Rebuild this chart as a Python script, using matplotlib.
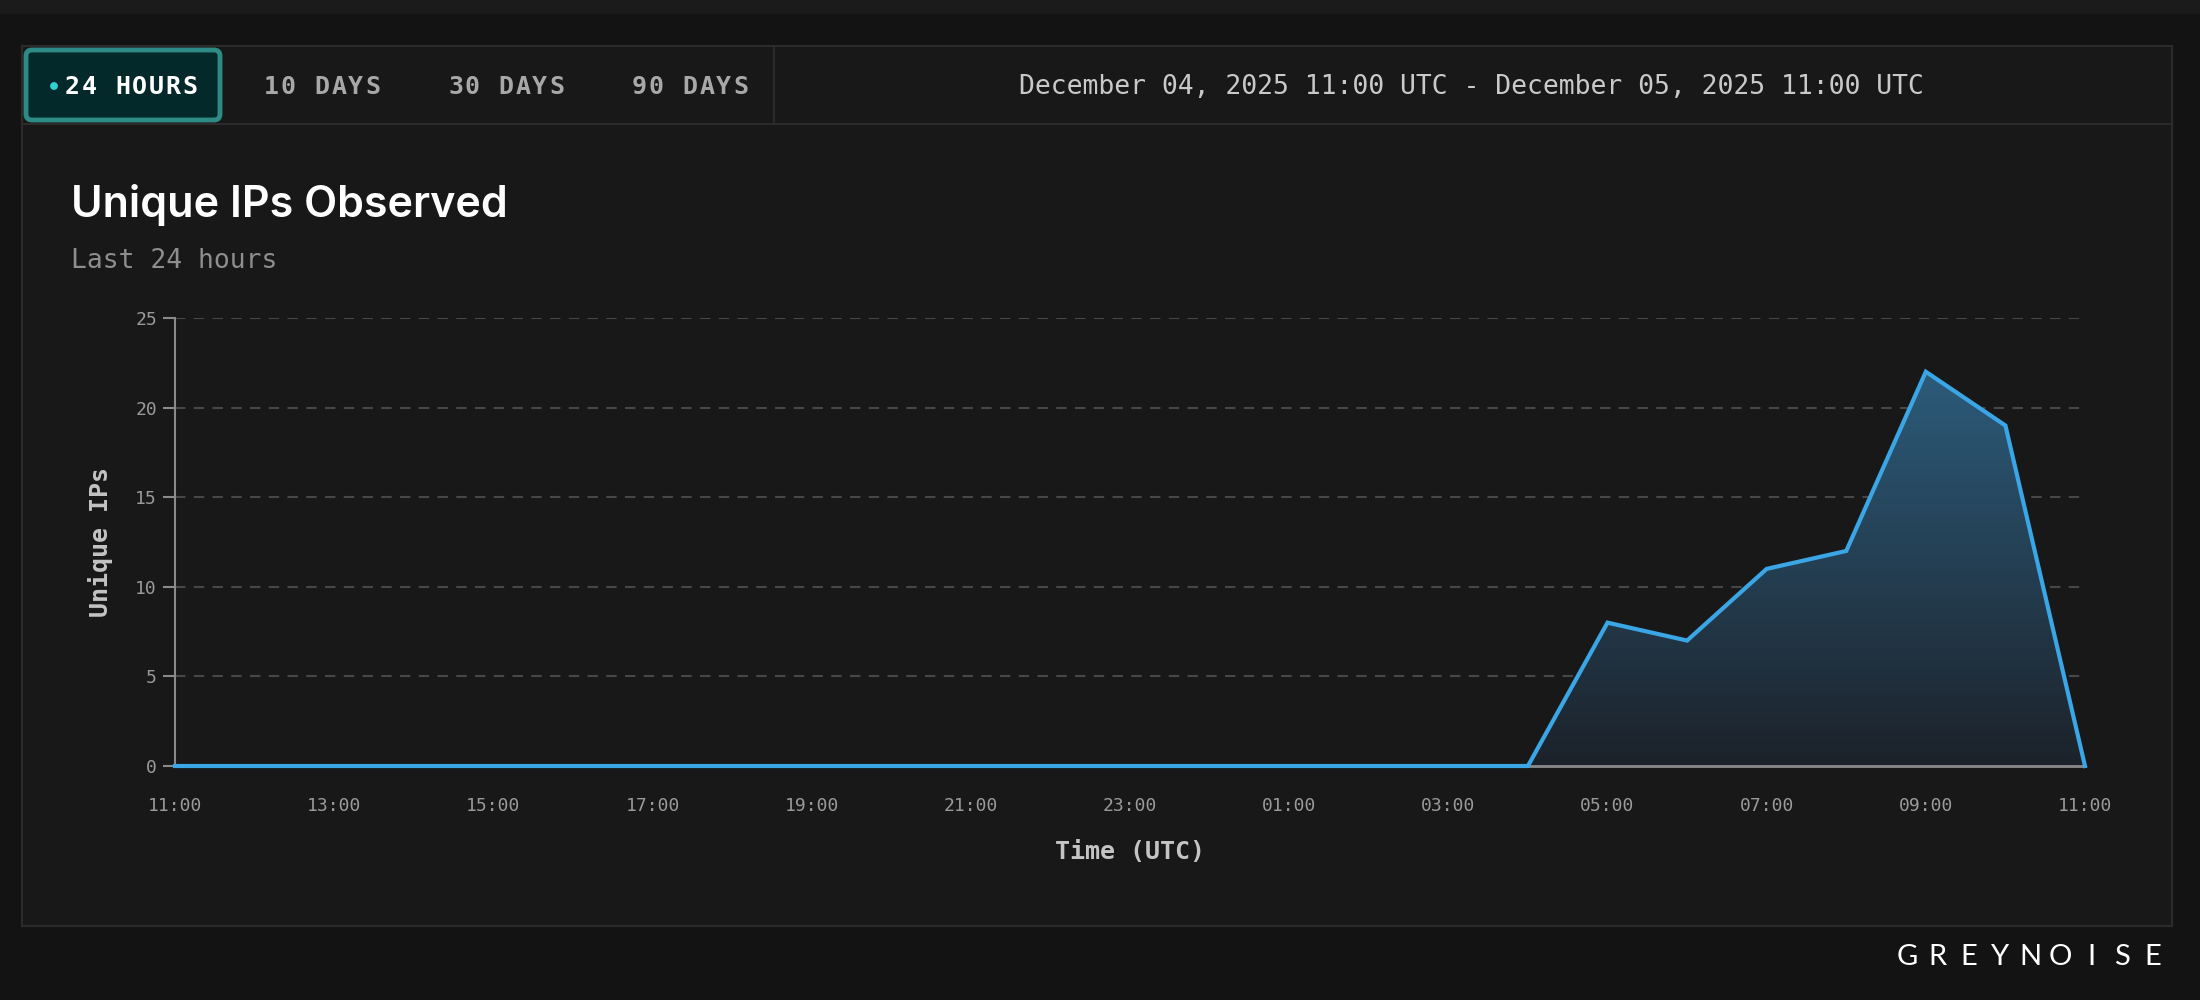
import numpy as np
import matplotlib
matplotlib.use("Agg")
import matplotlib.pyplot as plt
from matplotlib.patches import Rectangle, FancyBboxPatch, Circle
from matplotlib.colors import LinearSegmentedColormap

# data (hourly, 11:00 -> 11:00 next day)
hours = ["11:00", "12:00", "13:00", "14:00", "15:00", "16:00", "17:00", "18:00",
         "19:00", "20:00", "21:00", "22:00", "23:00", "00:00", "01:00", "02:00",
         "03:00", "04:00", "05:00", "06:00", "07:00", "08:00", "09:00", "10:00", "11:00"]
unique_ips = [0, 0, 0, 0, 0, 0, 0, 0, 0, 0, 0, 0, 0, 0, 0, 0,
              0, 0, 8, 7, 11, 12, 22, 19, 0]
y_ticks = [0, 5, 10, 15, 20, 25]
tabs = ["24 HOURS", "10 DAYS", "30 DAYS", "90 DAYS"]
date_range = "December 04, 2025 11:00 UTC - December 05, 2025 11:00 UTC"

OUTER = "#131313"
PANEL = "#181818"
BORDER = "#2b2b2b"
LINE = "#3aa6e6"
MONO = "DejaVu Sans Mono"


def spaced(ax, xc, y, s, adv, **kw):
    # letter-spaced text, centred on xc
    x0 = xc - (len(s) - 1) * adv / 2
    for i, ch in enumerate(s):
        if ch != " ":
            ax.text(x0 + i * adv, y, ch, ha="center", va="center", **kw)


fig = plt.figure(figsize=(22, 10), dpi=100, facecolor=OUTER)

# background layer in pixel coordinates
bg = fig.add_axes([0, 0, 1, 1])
bg.set_xlim(0, 2200)
bg.set_ylim(1000, 0)
bg.axis("off")
bg.add_patch(Rectangle((0, 0), 2200, 14, color="#1b1b1b", lw=0))
bg.add_patch(Rectangle((22, 46), 2150, 880, facecolor=PANEL, edgecolor=BORDER, lw=1.5))
bg.plot([22, 2172], [124, 124], color=BORDER, lw=1.5)
bg.plot([774, 774], [46, 124], color=BORDER, lw=1.5)

# tabs
bg.add_patch(FancyBboxPatch((26, 50), 194, 70, boxstyle="round,pad=0,rounding_size=6",
                            facecolor="#04292a", edgecolor="#2e8a84", lw=3.5))
bg.add_patch(Circle((54, 86), 3.2, color="#2fd3d0"))
tab_x = [131, 322, 506, 690]
for i, t in enumerate(tabs):
    spaced(bg, tab_x[i], 87, t, 16.8, family=MONO, fontsize=18, fontweight="bold",
           color="white" if i == 0 else "#a8a8a8")
bg.text(1471, 87, date_range, ha="center", va="center", family=MONO,
        fontsize=19, color="#c9c9c9")

# titles
bg.text(71, 205, "Unique IPs Observed", ha="left", va="center", family="Inter",
        fontsize=31, fontweight="semibold", color="white")
bg.text(71, 261, "Last 24 hours", ha="left", va="center", family=MONO,
        fontsize=19, color="#8e8e8e")

# footer logo
spaced(bg, 2030, 957, "GREYNOISE", 30.8, family="Lato", fontweight="normal",
       fontsize=21, color="white")

# chart
ax = fig.add_axes([175 / 2200, 0.234, 1910 / 2200, 0.448])
ax.set_facecolor(PANEL)
x = np.arange(len(hours))
y = np.array(unique_ips)

poly = ax.fill_between(x, y, 0, color="none", lw=0)
cmap = LinearSegmentedColormap.from_list("g", ["#1c222a", "#2c5b7a"])
grad = np.linspace(0, 1, 256).reshape(-1, 1)
im = ax.imshow(grad, extent=[0, len(hours) - 1, 0, max(unique_ips)], origin="lower",
               aspect="auto", cmap=cmap, zorder=1)
im.set_clip_path(poly.get_paths()[0], transform=ax.transData)
ax.set_xlim(0, len(hours) - 1)
ax.set_ylim(0, 25)

ax.plot(x, y, color=LINE, lw=3, zorder=3, solid_joinstyle="miter", clip_on=False)

ax.set_yticks(y_ticks)
ax.set_yticklabels([str(v) for v in y_ticks])
ax.set_xticks(x[::2])
ax.set_xticklabels(hours[::2])
for v in y_ticks[1:]:
    ax.axhline(v, color="#474747", lw=1.5, ls=(0, (5, 4)), zorder=0)

for s in ["top", "right"]:
    ax.spines[s].set_visible(False)
ax.spines["left"].set_color("#8a8a8a")
ax.spines["bottom"].set_color("#8a8a8a")
ax.spines["left"].set_linewidth(1.5)
ax.spines["bottom"].set_linewidth(2)
ax.tick_params(axis="y", colors="#8a8a8a", length=9, width=1.5, pad=4,
               labelsize=13, labelcolor="#9a9a9a")
ax.tick_params(axis="x", length=0, pad=22, labelsize=13, labelcolor="#9a9a9a")
for lbl in ax.get_xticklabels() + ax.get_yticklabels():
    lbl.set_family(MONO)

ax.set_xlabel("Time (UTC)", family=MONO, fontsize=18, fontweight="bold",
              color="#c4c4c4", labelpad=18)
ax.set_ylabel("Unique IPs", family=MONO, fontsize=18, fontweight="bold",
              color="#c4c4c4", labelpad=16)

fig.savefig("out.png", dpi=100, facecolor=OUTER)
